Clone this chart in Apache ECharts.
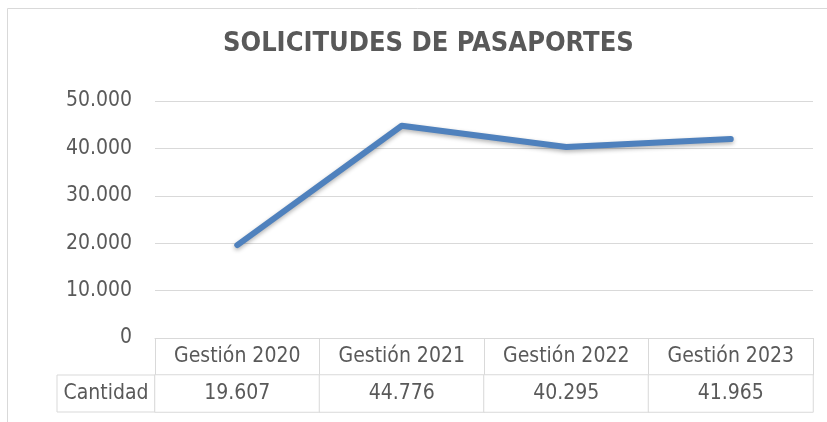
<!DOCTYPE html>
<html>
<head>
<meta charset="utf-8">
<script src="https://cdn.jsdelivr.net/npm/echarts@6/dist/echarts.min.js"></script>
<style>
  html, body { margin: 0; padding: 0; background: #fff; overflow: hidden; }
  #chart { width: 827px; height: 422px; }
</style>
</head>
<body>
<div id="chart"></div>
<script>
// datos del grafico
const categorias = ['Gestión 2020', 'Gestión 2021', 'Gestión 2022', 'Gestión 2023']
const cantidad = [19607, 44776, 40295, 41965]
const filaTabla = ['Cantidad']

const FONT = 'DejaVu Sans Condensed, Liberation Sans Narrow, sans-serif'
const GRIS = '#595959'
const LINEA = '#d9d9d9'

// 19607 -> 19.607
function miles(v) {
  return String(v).replace(/\B(?=(\d{3})+(?!\d))/g, '.')
}

let chart = echarts.init(document.getElementById('chart'))

const option = {
  animation: false,
  textStyle: { fontFamily: FONT },
  title: {
    text: 'SOLICITUDES DE PASAPORTES',
    left: 218,
    top: 25,
    textStyle: { fontFamily: FONT, fontSize: 27, fontWeight: 'bold', color: GRIS }
  },
  graphic: [
    {
      type: 'rect',
      shape: { x: 7.5, y: 8.5, width: 900, height: 500 },
      style: { fill: 'none', stroke: LINEA, lineWidth: 1 },
      silent: true
    }
  ],
  grid: [
    { left: 155, right: 14, top: 101, bottom: 84 },
    { left: 155, right: 14, top: 375, height: 37 }
  ],
  xAxis: [
    {
      gridIndex: 0,
      type: 'category',
      data: categorias,
      boundaryGap: true,
      axisLine: { lineStyle: { color: LINEA } },
      axisTick: { show: true, length: 37, lineStyle: { color: LINEA } },
      axisLabel: { color: GRIS, fontSize: 21, margin: 8, fontFamily: FONT }
    },
    {
      gridIndex: 1,
      type: 'category',
      data: categorias,
      show: false
    }
  ],
  yAxis: [
    {
      gridIndex: 0,
      type: 'value',
      min: 0,
      max: 50000,
      interval: 10000,
      axisLine: { show: false },
      axisTick: { show: false },
      splitLine: { lineStyle: { color: LINEA } },
      axisLabel: { color: GRIS, fontSize: 21, margin: 23, formatter: miles, fontFamily: FONT }
    },
    {
      gridIndex: 1,
      type: 'category',
      data: filaTabla,
      axisLine: { show: false },
      axisTick: { show: false },
      axisLabel: {
        margin: 0,
        formatter: '{c|{value}}',
        rich: {
          c: {
            width: 98,
            height: 37,
            lineHeight: 37,
            align: 'center',
            borderColor: LINEA,
            borderWidth: 1,
            color: GRIS,
            fontSize: 21,
            fontFamily: FONT
          }
        }
      }
    }
  ],
  series: [
    {
      name: 'Cantidad',
      type: 'line',
      xAxisIndex: 0,
      yAxisIndex: 0,
      data: cantidad,
      symbol: 'none',
      lineStyle: {
        color: '#4f81bd',
        width: 6,
        cap: 'round',
        join: 'round',
        shadowColor: 'rgba(0,0,0,0.3)',
        shadowBlur: 4,
        shadowOffsetY: 2
      }
    },
    {
      name: 'Tabla',
      type: 'heatmap',
      xAxisIndex: 1,
      yAxisIndex: 1,
      data: cantidad.map((v, i) => [i, 0, v]),
      itemStyle: { color: '#fff', borderColor: LINEA, borderWidth: 1 },
      label: {
        show: true,
        color: GRIS,
        fontSize: 21,
        fontFamily: FONT,
        formatter: p => miles(p.value[2])
      },
      emphasis: { disabled: true }
    }
  ]
}

chart.setOption(option)
</script>
</body>
</html>
